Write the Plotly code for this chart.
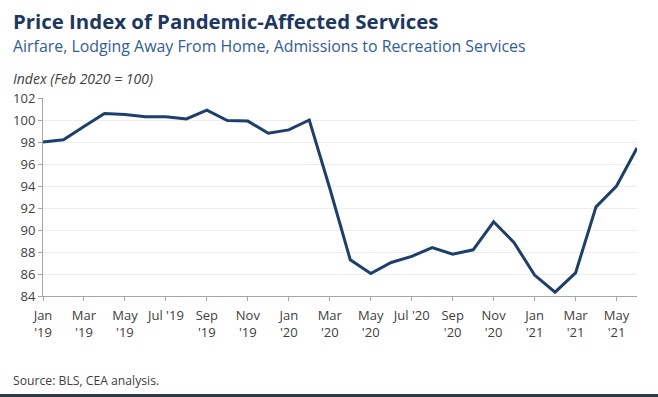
import plotly.graph_objects as go

months = ["2019-01","2019-02","2019-03","2019-04","2019-05","2019-06","2019-07","2019-08","2019-09","2019-10","2019-11","2019-12",
          "2020-01","2020-02","2020-03","2020-04","2020-05","2020-06","2020-07","2020-08","2020-09","2020-10","2020-11","2020-12",
          "2021-01","2021-02","2021-03","2021-04","2021-05","2021-06"]
index_values = [98.0, 98.2, 99.4, 100.6, 100.5, 100.3, 100.3, 100.1, 100.9, 99.95, 99.9, 98.8,
                99.1, 100.0, 93.8, 87.3, 86.05, 87.05, 87.6, 88.4, 87.8, 88.2, 90.75, 88.85,
                85.9, 84.35, 86.1, 92.1, 94.0, 97.45]
tick_months = ["2019-01","2019-03","2019-05","2019-07","2019-09","2019-11","2020-01","2020-03",
               "2020-05","2020-07","2020-09","2020-11","2021-01","2021-03","2021-05"]
tick_labels = ["Jan<br>'19","Mar<br>'19","May<br>'19","Jul '19<br> ","Sep<br>'19","Nov<br>'19","Jan<br>'20","Mar<br>'20",
               "May<br>'20","Jul '20<br> ","Sep<br>'20","Nov<br>'20","Jan<br>'21","Mar<br>'21","May<br>'21"]
y_ticks = [84, 86, 88, 90, 92, 94, 96, 98, 100, 102]

W, H = 658, 397
L, R, T, B = 43, 21, 98, 101
PW, PH = W - L - R, H - T - B

def px(x):
    return (x - L) / PW

def py(y):
    return (T + PH - y) / PH

FONT = "Open Sans"
fig = go.Figure()
fig.add_trace(go.Scatter(x=months, y=index_values, mode="lines",
                         line=dict(color="#1c3f6e", width=3), hoverinfo="skip"))

fig.update_layout(
    width=W, height=H, margin=dict(l=L, r=R, t=T, b=B),
    paper_bgcolor="white", plot_bgcolor="white", showlegend=False,
    font=dict(family=FONT, color="#404040", size=13),
    xaxis=dict(type="category", range=[0, len(months) - 1], tickmode="array",
               tickvals=tick_months, ticktext=tick_labels, showgrid=False,
               showline=True, linecolor="#a6a6a6", linewidth=1,
               ticks="outside", ticklen=4, tickcolor="#a6a6a6", ticklabelstandoff=3,
               tickfont=dict(size=13, color="#404040", family=FONT), tickangle=0),
    yaxis=dict(range=[84, 102], tickmode="array", tickvals=y_ticks,
               showgrid=True, gridcolor="#ededed", gridwidth=1, zeroline=False,
               showline=True, linecolor="#a6a6a6", linewidth=1,
               ticks="outside", ticklen=4, tickcolor="#a6a6a6",
               tickfont=dict(size=13, color="#404040", family=FONT)),
)

anns = [
    dict(text="<b>Price Index of Pandemic-Affected Services</b>", y=21, size=20.4, color="#1c3764"),
    dict(text="Airfare, Lodging Away From Home, Admissions to Recreation Services", y=46, size=15.9, color="#2f5d9c"),
    dict(text="<i>Index (Feb 2020 = 100)</i>", y=78, size=14, color="#404040"),
    dict(text="Source: BLS, CEA analysis.", y=380, size=12.2, color="#404040"),
]
for a in anns:
    fig.add_annotation(text=a["text"], xref="paper", yref="paper", x=px(11), y=py(a["y"]),
                       xanchor="left", yanchor="middle", showarrow=False,
                       font=dict(family=FONT, size=a["size"], color=a["color"]))

fig.add_shape(type="rect", xref="paper", yref="paper", x0=px(0), x1=px(W), y0=py(H + 2), y1=py(394),
              fillcolor="#2e3a45", line=dict(width=0), layer="above")

fig.write_html("out.html", config={"displayModeBar": False},
               post_script="document.body.style.margin='0';document.body.style.overflow='hidden';")
